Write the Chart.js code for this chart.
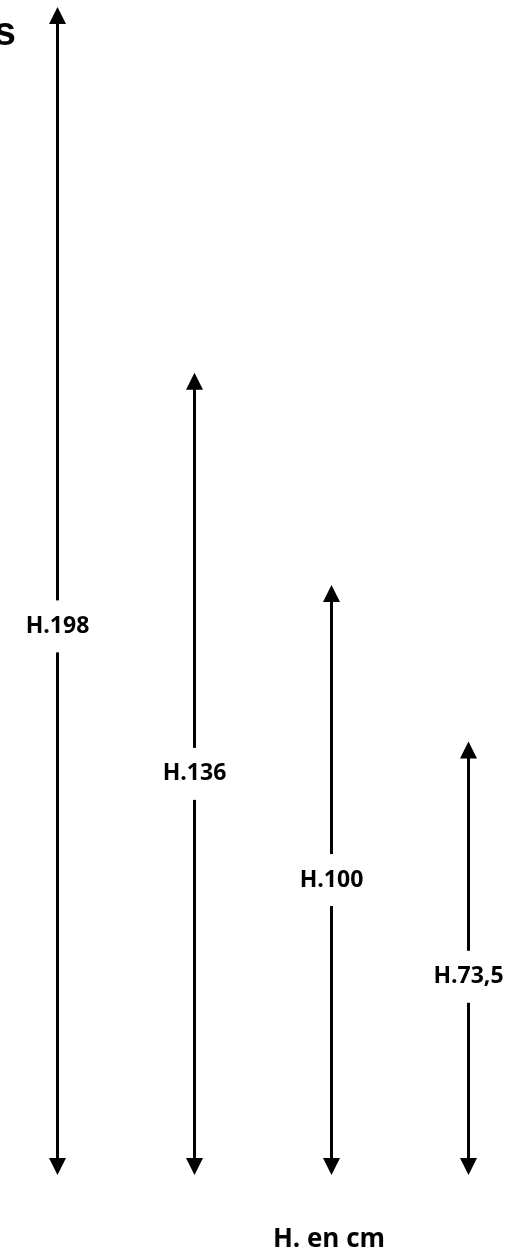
<!DOCTYPE html>
<html>
<head>
<meta charset="utf-8">
<script src="https://cdn.jsdelivr.net/npm/chart.js@4.4.1/dist/chart.umd.min.js"></script>
<style>
  html, body { margin: 0; padding: 0; background: #fff; }
  #wrap { width: 511px; height: 1255px; position: relative; }
</style>
</head>
<body>
<div id="wrap"><canvas id="heights"></canvas></div>
<script>
// heights in cm, one double arrow each
const categories = [0, 1, 2, 3];
const heights = [198, 136, 100, 73.5];
const labels = ['H.198', 'H.136', 'H.100', 'H.73,5'];
const unitLabel = 'H. en cm';
const titleTail = 's';

const arrowPlugin = {
  id: 'arrows',
  afterDatasetsDraw(chart, args, opts) {
    const ctx = chart.ctx;
    const meta = chart.getDatasetMeta(0);
    const y = chart.scales.y;
    ctx.save();
    meta.data.forEach((bar, i) => {
      const x = bar.x, top = bar.y, base = bar.base;
      // clear the square bar ends so the heads come to a point
      ctx.fillStyle = '#fff';
      ctx.fillRect(x - 3, top - 1, 6, 6);
      ctx.fillRect(x - 3, base - 5, 6, 6);
      ctx.fillStyle = '#000';
      ctx.beginPath();
      ctx.moveTo(x, top);
      ctx.lineTo(x - opts.headW / 2, top + opts.headH);
      ctx.lineTo(x + opts.headW / 2, top + opts.headH);
      ctx.closePath();
      ctx.fill();
      ctx.beginPath();
      ctx.moveTo(x, base);
      ctx.lineTo(x - opts.headW / 2, base - opts.headH);
      ctx.lineTo(x + opts.headW / 2, base - opts.headH);
      ctx.closePath();
      ctx.fill();

      // label sitting in a gap of the shaft
      const ly = y.getPixelForValue(opts.labelAt[i]);
      ctx.fillStyle = '#fff';
      ctx.fillRect(x - 4, ly - opts.gap / 2, 8, opts.gap);
      ctx.fillStyle = '#000';
      ctx.font = 'bold 23px "Open Sans", sans-serif';
      ctx.textAlign = 'center';
      ctx.textBaseline = 'middle';
      ctx.fillText(labels[i], x, ly);
    });

    ctx.font = 'bold 26px "Open Sans", sans-serif';
    ctx.textAlign = 'center';
    ctx.textBaseline = 'middle';
    ctx.fillText(unitLabel, 329, 1240);

    ctx.font = 'bold 40px "Liberation Sans", Arial, sans-serif';
    ctx.textAlign = 'right';
    ctx.textBaseline = 'alphabetic';
    ctx.fillText(titleTail, 16, 45);
    ctx.restore();
  }
};

new Chart(document.getElementById('heights'), {
  type: 'bar',
  data: {
    datasets: [{
      data: heights.map((h, i) => ({ x: categories[i], y: h })),
      backgroundColor: '#000',
      barThickness: 3,
      borderWidth: 0,
      inflateAmount: 0,
      clip: false
    }]
  },
  options: {
    responsive: true,
    maintainAspectRatio: false,
    animation: false,
    layout: { padding: { left: 57.5, right: 42.5, top: 7, bottom: 80 } },
    scales: {
      x: { type: 'linear', display: false, offset: false, min: 0, max: 3 },
      y: { display: false, min: 0, max: 198 }
    },
    plugins: {
      legend: { display: false },
      tooltip: { enabled: false },
      arrows: { headW: 17, headH: 17, gap: 52, labelAt: [93, 68, 50, 33.6] }
    }
  },
  plugins: [arrowPlugin]
});
</script>
</body>
</html>
